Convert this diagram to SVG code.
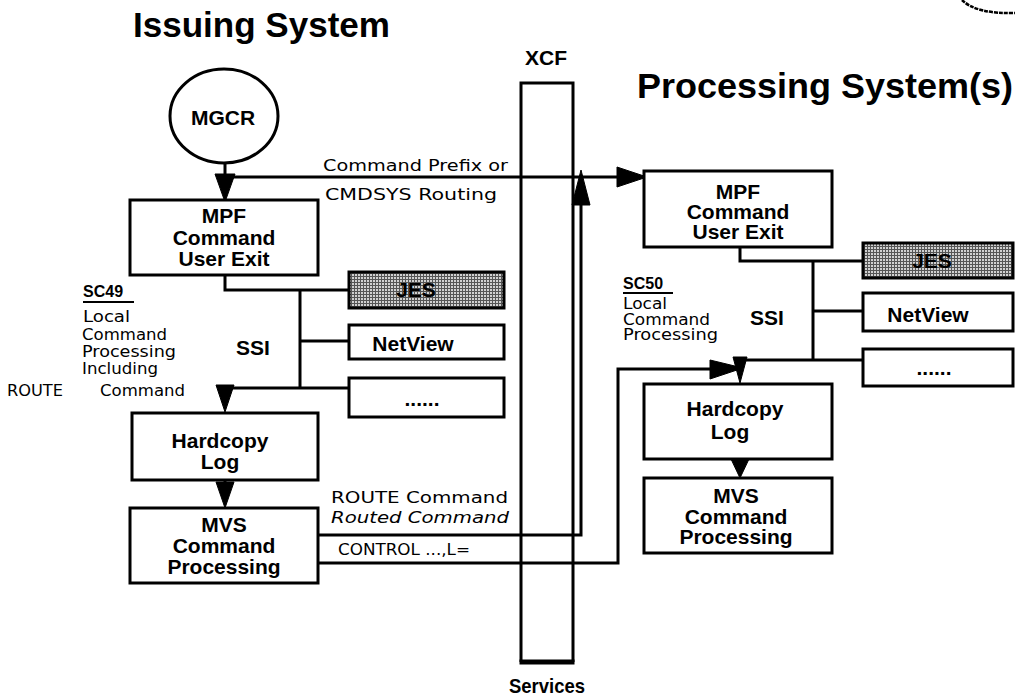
<svg xmlns="http://www.w3.org/2000/svg" width="1015" height="698" viewBox="0 0 1015 698">
<defs>
<pattern id="dither" width="3" height="3" patternUnits="userSpaceOnUse">
<rect width="3" height="3" fill="#d0d0d0"/>
<rect width="3" height="1" fill="#555"/>
<rect width="1" height="3" fill="#555"/>
</pattern>
<style>
.box{fill:#fff;stroke:#000;stroke-width:3}
.jes{fill:url(#dither);stroke:#000;stroke-width:3}
.ln{fill:none;stroke:#000;stroke-width:3}
.ah{fill:#000;stroke:#000;stroke-width:1}
.title{font-family:"Liberation Sans",Arial,sans-serif;font-weight:bold;font-size:35px;fill:#000}
.lbl{font-family:"Liberation Sans",Arial,sans-serif;font-weight:bold;font-size:21px;fill:#000;text-anchor:middle}
.note{font-family:"DejaVu Sans",sans-serif;font-size:16px;fill:#000}
.sc{font-family:"Liberation Sans",Arial,sans-serif;font-weight:bold;font-size:16px;fill:#000}
</style>
</defs>
<rect width="1015" height="698" fill="#fff"/>

<text class="title" x="133" y="37" textLength="257" lengthAdjust="spacingAndGlyphs">Issuing System</text>
<text class="title" x="637" y="98" textLength="376" lengthAdjust="spacingAndGlyphs">Processing System(s)</text>
<path d="M962 0 Q976 14 1015 13" fill="none" stroke="#000" stroke-width="2.5" stroke-dasharray="4 1"/>

<g id="xcf">
<path d="M521 662 V83 H573 V662" class="ln"/>
<line x1="519.5" y1="662" x2="574.5" y2="662" stroke="#000" stroke-width="5"/>
<text class="lbl" x="546" y="65" font-size="26">XCF</text>
<text class="lbl" x="547" y="693" font-size="22" textLength="76" lengthAdjust="spacingAndGlyphs">Services</text>
</g>

<g id="connectors">
<line x1="225" y1="163" x2="225" y2="180" class="ln"/>
<polygon class="ah" points="215,174 235,174 225,202"/>
<line x1="225" y1="177" x2="620" y2="177" class="ln"/>
<polygon class="ah" points="617,167 647,177 617,187"/>
<polyline points="225,275 225,290 349,290" class="ln"/>
<line x1="300" y1="290" x2="300" y2="388" class="ln"/>
<line x1="300" y1="341" x2="349" y2="341" class="ln"/>
<line x1="225" y1="388" x2="349" y2="388" class="ln"/>
<polygon class="ah" points="216,385 234,385 225,412"/>
<line x1="225" y1="480" x2="225" y2="488" class="ln"/>
<polygon class="ah" points="216,482 234,482 225,508"/>
<polyline points="318,535 581,535 581,200" class="ln"/>
<polygon class="ah" points="572,205 590,205 581,170"/>
<polyline points="318,563 618,563 618,369 715,369" class="ln"/>
<polygon class="ah" points="710,360 743,368 710,379"/>
<polyline points="740,247 740,261 863,261" class="ln"/>
<line x1="813" y1="261" x2="813" y2="360" class="ln"/>
<line x1="813" y1="311" x2="863" y2="311" class="ln"/>
<line x1="740" y1="360" x2="863" y2="360" class="ln"/>
<polygon class="ah" points="733,357 747,357 740,383"/>
<line x1="740" y1="459" x2="740" y2="465" class="ln"/>
<polygon class="ah" points="731,459 749,459 740,478"/>
</g>

<g id="mgcr">
<ellipse cx="224" cy="116" rx="54" ry="47" fill="#fff" stroke="#000" stroke-width="3"/>
<text class="lbl" x="223" y="125" font-size="22">MGCR</text>
</g>

<g id="mpf-left">
<rect class="box" x="130" y="200" width="188" height="75"/>
<text class="lbl" x="224" y="223">MPF</text>
<text class="lbl" x="224" y="245">Command</text>
<text class="lbl" x="224" y="266">User Exit</text>
</g>

<g id="jes-left">
<rect class="jes" x="349" y="272" width="155" height="36"/>
<text class="lbl" x="416" y="297">JES</text>
</g>
<g id="netview-left">
<rect class="box" x="349" y="325" width="155" height="34"/>
<text class="lbl" x="413" y="351" font-size="22">NetView</text>
</g>
<g id="dots-left">
<rect class="box" x="349" y="378" width="155" height="39" stroke-width="4"/>
<text class="lbl" x="422" y="406">......</text>
</g>
<text class="lbl" x="253" y="355" font-size="24">SSI</text>

<g id="sc49">
<text class="sc" x="83" y="297">SC49</text>
<line x1="83" y1="302" x2="134" y2="302" stroke="#000" stroke-width="2"/>
<text class="note" x="83" y="322" textLength="47" lengthAdjust="spacingAndGlyphs">Local</text>
<text class="note" x="82" y="340" textLength="85" lengthAdjust="spacingAndGlyphs">Command</text>
<text class="note" x="82" y="357" textLength="94" lengthAdjust="spacingAndGlyphs">Processing</text>
<text class="note" x="82" y="374" textLength="76" lengthAdjust="spacingAndGlyphs">Including</text>
<text class="note" x="7" y="396" textLength="56" lengthAdjust="spacingAndGlyphs">ROUTE</text>
<text class="note" x="100" y="396" textLength="85" lengthAdjust="spacingAndGlyphs">Command</text>
</g>

<g id="hardcopy-left">
<rect class="box" x="132" y="413" width="186" height="67"/>
<text class="lbl" x="220" y="448">Hardcopy</text>
<text class="lbl" x="220" y="469">Log</text>
</g>

<g id="mvs-left">
<rect class="box" x="130" y="508" width="188" height="75"/>
<text class="lbl" x="224" y="532" font-size="20">MVS</text>
<text class="lbl" x="224" y="553" font-size="20">Command</text>
<text class="lbl" x="224" y="574" font-size="20">Processing</text>
</g>

<g id="route-labels">
<text class="note" x="323" y="171" font-size="19" textLength="185" lengthAdjust="spacingAndGlyphs">Command Prefix or</text>
<text class="note" x="325" y="200" font-size="19" textLength="172" lengthAdjust="spacingAndGlyphs">CMDSYS Routing</text>
<text class="note" x="331" y="503" font-size="17" textLength="177" lengthAdjust="spacingAndGlyphs">ROUTE Command</text>
<text class="note" x="331" y="523" font-size="17" font-style="italic" textLength="178" lengthAdjust="spacingAndGlyphs">Routed Command</text>
<text class="note" x="338" y="555" font-size="14" textLength="132" lengthAdjust="spacingAndGlyphs">CONTROL ...,L=</text>
</g>

<g id="mpf-right">
<rect class="box" x="644" y="171" width="188" height="76"/>
<text class="lbl" x="738" y="199" font-size="20">MPF</text>
<text class="lbl" x="738" y="219" font-size="20">Command</text>
<text class="lbl" x="738" y="239" font-size="20">User Exit</text>
</g>

<g id="jes-right">
<rect class="jes" x="863" y="243" width="150" height="35"/>
<text class="lbl" x="932" y="268">JES</text>
</g>
<g id="netview-right">
<rect class="box" x="863" y="293" width="150" height="38"/>
<text class="lbl" x="928" y="322" font-size="22">NetView</text>
</g>
<g id="dots-right">
<rect class="box" x="863" y="349" width="150" height="37"/>
<text class="lbl" x="934" y="375">......</text>
</g>
<text class="lbl" x="767" y="325" font-size="24">SSI</text>

<g id="sc50">
<text class="sc" x="623" y="289" font-size="15">SC50</text>
<line x1="623" y1="293" x2="673" y2="293" stroke="#000" stroke-width="2"/>
<text class="note" x="623" y="309" font-size="13" textLength="44" lengthAdjust="spacingAndGlyphs">Local</text>
<text class="note" x="623" y="325" font-size="13" textLength="87" lengthAdjust="spacingAndGlyphs">Command</text>
<text class="note" x="623" y="340" font-size="13" textLength="95" lengthAdjust="spacingAndGlyphs">Processing</text>
</g>

<g id="hardcopy-right">
<rect class="box" x="644" y="384" width="188" height="75"/>
<text class="lbl" x="735" y="416">Hardcopy</text>
<text class="lbl" x="730" y="439">Log</text>
</g>

<g id="mvs-right">
<rect class="box" x="644" y="478" width="188" height="75"/>
<text class="lbl" x="736" y="503" font-size="20">MVS</text>
<text class="lbl" x="736" y="524" font-size="20">Command</text>
<text class="lbl" x="736" y="544" font-size="20">Processing</text>
</g>
</svg>
